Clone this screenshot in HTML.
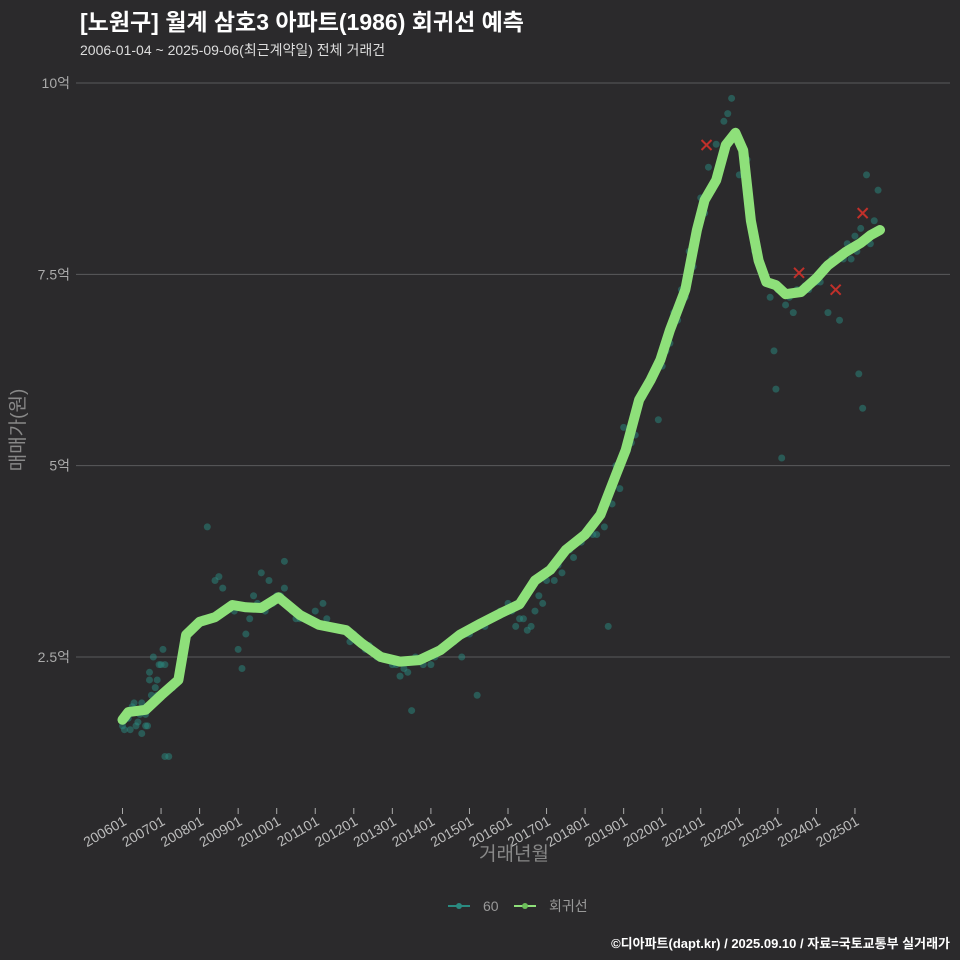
<!DOCTYPE html>
<html><head><meta charset="utf-8"><style>
html,body{margin:0;background:#2b2a2c;overflow:hidden;width:960px;height:960px;}
svg{display:block;}
svg text{font-family:"Liberation Sans","Noto Sans CJK KR",sans-serif;}
</style></head><body>
<svg id="c" width="960" height="960">
<rect width="960" height="960" fill="#2b2a2c"/>
<text x="80" y="30" font-size="23" font-weight="bold" fill="#fff">[노원구] 월계 삼호3 아파트(1986) 회귀선 예측</text>
<text x="80" y="55" font-size="14" fill="#ddd">2006-01-04 ~ 2025-09-06(최근계약일) 전체 거래건</text>
<g id="grid"></g><g id="pts"></g><g id="line"></g><g id="marks"></g><g id="ax"></g>
<text transform="translate(24,430) rotate(-90)" text-anchor="middle" font-size="19" fill="#888">매매가(원)</text>
<text x="514" y="860" text-anchor="middle" font-size="19" fill="#888">거래년월</text>
<g>
<g><line x1="448" y1="906" x2="470" y2="906" stroke="#2a8a80" stroke-width="2"/><circle cx="459" cy="906" r="3" fill="#2a8a80"/><text x="483" y="911" font-size="14" fill="#999">60</text></g>
<g><line x1="514" y1="906" x2="536" y2="906" stroke="#8ee07a" stroke-width="2"/><circle cx="525" cy="906" r="3" fill="#6cbf5a"/><text x="549" y="911" font-size="14" fill="#999">회귀선</text></g>
</g>
<text x="950" y="948" text-anchor="end" font-size="13" font-weight="bold" fill="#fff">©디아파트(dapt.kr) / 2025.09.10 / 자료=국토교통부 실거래가</text>
</svg>
<script>
const yTicks=[2.5,5,7.5,10];
const yTickLabels=["2.5억","5억","7.5억","10억"];
const xTickYears=[2006,2007,2008,2009,2010,2011,2012,2013,2014,2015,2016,2017,2018,2019,2020,2021,2022,2023,2024,2025];
const xTickLabels=["200601","200701","200801","200901","201001","201101","201201","201301","201401","201501","201601","201701","201801","201901","202001","202101","202201","202301","202401","202501"];
const lineYears=[2006.0,2006.15,2006.6,2007.0,2007.45,2007.65,2008.0,2008.4,2008.85,2009.2,2009.6,2010.05,2010.6,2011.1,2011.8,2012.2,2012.7,2013.2,2013.7,2014.25,2014.75,2015.3,2015.8,2016.3,2016.7,2017.1,2017.5,2018.0,2018.4,2018.8,2019.05,2019.4,2019.7,2019.95,2020.2,2020.6,2020.9,2021.1,2021.4,2021.65,2021.9,2022.1,2022.3,2022.5,2022.7,2022.95,2023.2,2023.6,2024.0,2024.3,2024.75,2025.15,2025.4,2025.65];
const lineValues=[1.68,1.78,1.81,2.0,2.2,2.79,2.96,3.02,3.18,3.15,3.14,3.28,3.05,2.92,2.85,2.68,2.5,2.44,2.46,2.59,2.79,2.94,3.07,3.19,3.5,3.64,3.9,4.1,4.36,4.88,5.2,5.86,6.12,6.38,6.77,7.3,8.08,8.47,8.73,9.19,9.35,9.12,8.2,7.68,7.4,7.36,7.24,7.27,7.45,7.62,7.79,7.91,8.01,8.08];
const dealYears=[2006.0,2006.1,2006.2,2006.3,2006.4,2006.5,2006.6,2006.7,2006.8,2006.9,2007.0,2007.05,2007.1,2007.2,2006.5,2006.6,2006.9,2007.1,2007.5,2007.7,2007.9,2008.2,2008.4,2008.5,2008.6,2008.1,2008.7,2009.0,2009.1,2009.2,2009.3,2009.4,2009.6,2009.8,2010.0,2010.2,2010.4,2010.6,2010.2,2011.0,2011.2,2011.5,2011.9,2012.3,2012.6,2013.0,2013.2,2013.4,2013.6,2013.5,2014.0,2014.3,2014.6,2014.8,2015.0,2015.2,2015.5,2015.8,2016.0,2016.2,2016.3,2016.5,2016.8,2017.0,2017.3,2017.6,2017.8,2018.1,2018.3,2018.6,2018.7,2018.8,2019.0,2019.1,2019.3,2019.4,2019.6,2019.9,2020.1,2020.3,2020.5,2020.7,2020.9,2021.0,2021.2,2021.4,2021.6,2021.8,2021.7,2022.0,2022.2,2022.6,2022.8,2023.0,2023.2,2023.4,2023.1,2022.95,2022.9,2023.8,2024.1,2024.3,2024.6,2024.9,2025.0,2025.2,2025.4,2025.6,2025.3,2025.1,
2006.05,2006.15,2006.25,2006.35,2006.45,2006.55,2006.65,2006.75,2006.85,2006.95,2006.3,2006.7,2007.3,2007.6,2007.8,2008.0,2008.3,2008.55,2008.9,2009.5,2009.7,2009.9,2010.1,2010.3,2010.5,2010.8,2011.3,2011.6,2012.0,2012.4,2012.8,2013.1,2013.3,2013.8,2014.1,2014.5,2014.9,2015.4,2015.6,2016.1,2016.4,2016.6,2016.7,2016.9,2017.2,2017.4,2017.7,2017.9,2018.2,2018.5,2018.9,2019.2,2019.5,2019.8,2020.0,2020.2,2020.4,2020.6,2020.8,2021.1,2021.3,2021.5,2022.1,2022.4,2022.7,2023.3,2023.5,2023.7,2024.0,2024.2,2024.4,2024.7,2024.8,2025.05,2025.15,2025.35,2025.5];
const dealValues=[1.6,1.7,1.55,1.8,1.65,1.9,1.75,2.3,2.5,2.2,2.4,2.6,1.2,1.2,1.5,1.6,2.0,2.4,2.3,2.8,2.9,4.2,3.5,3.55,3.4,3.0,3.1,2.6,2.35,2.8,3.0,3.3,3.6,3.5,3.3,3.4,3.1,3.0,3.75,3.1,3.2,2.9,2.7,2.6,2.5,2.4,2.25,2.3,2.5,1.8,2.4,2.6,2.7,2.5,2.8,2.0,3.0,3.1,3.2,2.9,3.0,2.85,3.3,3.5,3.7,3.9,4.0,4.2,4.1,2.9,4.5,5.0,5.5,5.2,5.4,5.9,6.0,5.6,6.5,7.0,7.3,7.8,8.0,8.5,8.9,9.2,9.5,9.8,9.6,8.8,9.0,7.5,7.2,7.3,7.1,7.0,5.1,6.0,6.5,7.3,7.4,7.0,6.9,7.7,8.0,5.75,7.9,8.6,8.8,6.2,
1.55,1.7,1.85,1.6,1.75,1.8,1.6,2.0,2.1,2.4,1.9,2.2,2.1,2.7,2.85,2.95,3.0,3.05,3.1,3.2,3.1,3.2,3.3,3.2,3.0,3.0,3.0,2.85,2.8,2.65,2.5,2.4,2.35,2.4,2.5,2.7,2.8,2.9,3.0,3.1,3.0,2.9,3.1,3.2,3.5,3.6,3.8,4.0,4.1,4.2,4.7,5.3,5.9,6.2,6.3,6.6,6.9,7.2,7.6,8.3,8.6,8.9,9.0,7.8,7.4,7.2,7.3,7.35,7.4,7.6,7.7,7.7,7.9,7.8,8.1,8.0,8.2];
const markYears=[2021.15,2023.55,2024.5,2025.2];
const markValues=[9.19,7.52,7.3,8.3];
const NS="http://www.w3.org/2000/svg";
const X=y=>122.5+(y-2006)*38.55;
const Y=v=>657-(v-2.5)*76.53;
function mk(p,t,a){const e=document.createElementNS(NS,t);for(const k in a)e.setAttribute(k,a[k]);document.getElementById(p).appendChild(e);return e;}
yTicks.forEach((v,i)=>{
 const l=mk('grid','line',{x1:76,x2:950,y1:Y(v),y2:Y(v),stroke:'#5a5a5c','stroke-width':1});
 
 
 const t=mk('ax','text',{x:70,y:Y(v)+5,'text-anchor':'end','font-size':14,fill:'#aaa'});
 t.textContent=yTickLabels[i];
 
 
});
xTickYears.forEach((yr,i)=>{
 const x=X(yr);
 const l=mk('ax','line',{x1:x,x2:x,y1:808,y2:814,stroke:'#aaa'});
 
 
 const t=mk('ax','text',{x:0,y:0,'text-anchor':'end','font-size':14,fill:'#bbb',transform:`translate(${x+5},${824}) rotate(-30)`});
 t.textContent=xTickLabels[i];
 
 
});
dealYears.forEach((yr,i)=>{
 const c=mk('pts','circle',{cx:X(yr),cy:Y(dealValues[i]),r:3.5,fill:'#2a8a80','fill-opacity':0.5});
 
 
});
const d=lineYears.map((yr,i)=>(i?'L':'M')+X(yr).toFixed(1)+','+Y(lineValues[i]).toFixed(1)).join('');
const p=mk('line','path',{d:d,fill:'none',stroke:'#8ee07a','stroke-width':10,'stroke-linejoin':'round','stroke-linecap':'round'});


markYears.forEach((yr,i)=>{
 const x=X(yr),y=Y(markValues[i]);
 const g=mk('marks','path',{d:`M${x-5},${y-5}L${x+5},${y+5}M${x-5},${y+5}L${x+5},${y-5}`,stroke:'#c0302a','stroke-width':2});
 
 
});
</script>
</body></html>
